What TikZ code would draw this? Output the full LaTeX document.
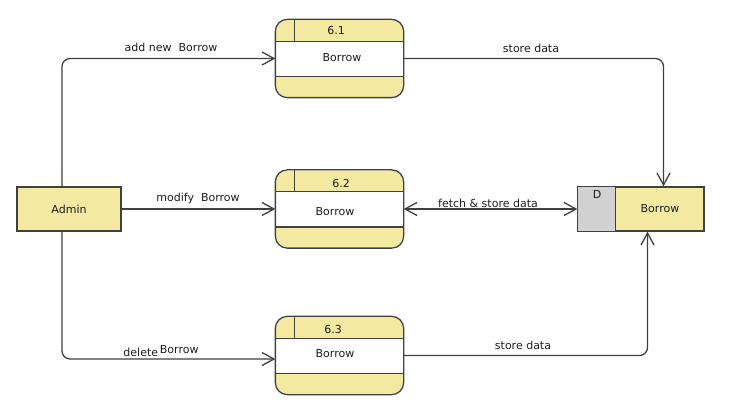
\documentclass[tikz,border=0pt]{standalone}
\usepackage{fontspec}
\setmainfont{DejaVu Sans}
\usetikzlibrary{arrows.meta}
\definecolor{yel}{HTML}{F4E9A0}
\definecolor{gry}{HTML}{D2D2D2}
\definecolor{ln}{HTML}{404040}
\definecolor{txt}{HTML}{1E1E1E}
\begin{document}
\begin{tikzpicture}[x=1pt,y=-1pt,
  font=\fontsize{11}{13}\selectfont, text=txt,
  line width=1.3pt,
  procbox/.style={rectangle, rounded corners=12pt, fill=yel, minimum width=127pt, minimum height=77pt, inner sep=0pt},
  entbox/.style={rectangle, draw=ln, fill=yel, minimum width=104pt, minimum height=44pt, inner sep=0pt},
  lbl/.style={inner sep=1pt},
  conn/.style={draw=ln, rounded corners=8pt, -{Straight Barb[length=12pt,width=13pt,line width=1.3pt]}},
  conn2/.style={draw=ln, {Straight Barb[length=12pt,width=13pt,line width=1.3pt]}-{Straight Barb[length=12pt,width=13pt,line width=1.3pt]}}
]
\useasboundingbox (0,0) rectangle (741,411);

% processes
\foreach \n/\cy in {p1/58.5, p2/209, p3/355.5}{
  \node[procbox] (\n) at (339.5,\cy) {};
  \fill[white] ([yshift=-22pt]\n.north west) rectangle ([yshift=21pt]\n.south east);
  \draw[ln] ([yshift=-22pt]\n.north west) -- ([yshift=-22pt]\n.north east);
  \draw[ln] ([yshift=21pt]\n.south west) -- ([yshift=21pt]\n.south east);
  \draw[ln] ([xshift=19pt]\n.north west) -- ([xshift=19pt,yshift=-22pt]\n.north west);
  \draw[ln, rounded corners=12pt] (\n.north west) rectangle (\n.south east);
}
\node (n1) at (336,31) {6.1};
\node (b1) at (342,58) {Borrow};
\node (n2) at (341,183) {6.2};
\node (b2) at (335,212) {Borrow};
\node (n3) at (333,329) {6.3};
\node (b3) at (335,354) {Borrow};

% admin
\node[entbox] (a) at (69,209) {Admin};

% data store
\node[rectangle, draw=ln, fill=yel, minimum width=126pt, minimum height=44pt, inner sep=0pt] (s) at (641,209) {};
\fill[gry] (s.north west) rectangle ([xshift=38pt]s.south west);
\draw[ln] ([xshift=38pt]s.north west) -- ([xshift=38pt]s.south west);
\draw[ln] (s.north west) rectangle (s.south east);
\node (sd) at (597,194) {D};
\node (sb) at (660,209) {Borrow};

% connectors
\draw[conn] ([xshift=-7pt]a.north) |- (p1.west);
\draw[conn] (a.east) -- (p2.west);
\draw[conn] ([xshift=-7pt]a.south) |- ([yshift=-3.5pt]p3.west);
\draw[conn] (p1.east) -| ([xshift=22.5pt]s.north);
\draw[conn2] (p2.east) -- (s.west);
\draw[conn] ([yshift=0pt]p3.east) -| ([xshift=6.5pt]s.south);

% labels
\node[lbl] (l1) at (171,47) {add new\ \ Borrow};
\node[lbl] (l2) at (198,198) {modify\ \ Borrow};
\node[lbl] (l3) at (161,351) {delete\,\raisebox{3pt}{Borrow}};
\node[lbl] (l4) at (531,48) {store data};
\node[lbl] (l5) at (488,203) {fetch \& store data};
\node[lbl] (l6) at (523,345) {store data};
\end{tikzpicture}
\end{document}
